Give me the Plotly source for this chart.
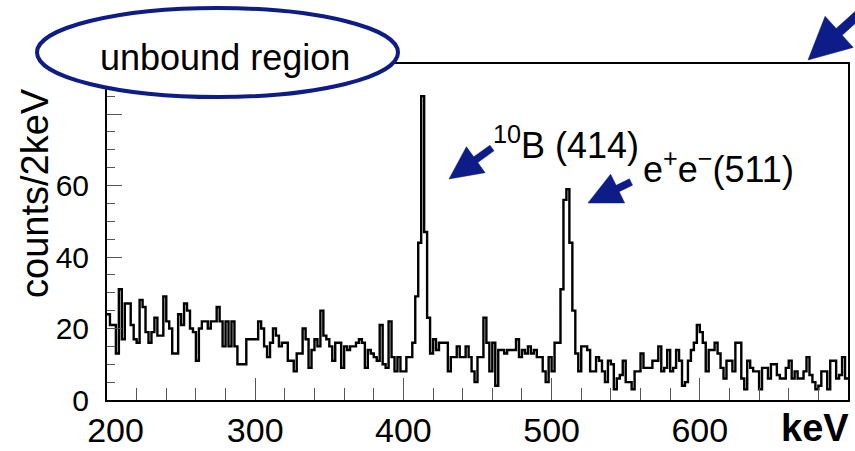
import plotly.graph_objects as go

# ---- spectrum: counts per 2 keV bin, 200-700 keV ----
E_MIN = 200
E_MAX = 700
BIN_WIDTH = 2

counts_200_300 = [24, 21, 21, 13, 31, 17, 27, 27, 21, 17,
                  16, 28, 26, 19, 16, 19, 23, 18, 18, 29,
                  22, 20, 13, 13, 24, 21, 27, 25, 20, 19,
                  11, 20, 22, 22, 20, 22, 22, 26, 22, 15,
                  22, 15, 22, 15, 10, 10, 10, 17, 17, 17]
counts_300_400 = [17, 22, 20, 15, 12, 16, 20, 18, 15, 16,
                  16, 11, 11, 8, 13, 13, 20, 17, 9, 14,
                  17, 15, 25, 18, 17, 15, 11, 16, 16, 9,
                  15, 14, 15, 15, 16, 17, 16, 9, 14, 13,
                  12, 11, 21, 10, 9, 22, 12, 8, 12, 8]
counts_400_500 = [8, 12, 12, 16, 29, 44, 85, 47, 23, 13,
                  17, 14, 16, 16, 16, 8, 12, 12, 15, 12,
                  12, 15, 12, 8, 5, 12, 12, 23, 16, 8,
                  16, 4, 14, 14, 13, 14, 14, 14, 17, 12,
                  14, 13, 15, 13, 14, 12, 12, 8, 5, 12]
counts_500_600 = [8, 16, 16, 31, 56, 59, 44, 25, 13, 8,
                  15, 15, 14, 8, 8, 12, 11, 8, 5, 11,
                  10, 3, 6, 7, 11, 5, 5, 3, 8, 8,
                  13, 9, 9, 9, 11, 11, 15, 8, 9, 14,
                  8, 9, 14, 11, 4, 5, 11, 14, 16, 21]
counts_600_700 = [19, 16, 8, 14, 14, 16, 13, 9, 6, 11,
                  11, 8, 16, 16, 6, 3, 11, 9, 8, 8,
                  3, 9, 9, 6, 10, 10, 7, 6, 6, 9,
                  11, 6, 8, 6, 6, 8, 12, 7, 5, 3,
                  4, 8, 8, 3, 11, 11, 6, 7, 12, 6]

counts = counts_200_300 + counts_300_400 + counts_400_500 + counts_500_600 + counts_600_700

x_tick_vals = [200, 300, 400, 500, 600]
x_tick_text = ["\u2002200", "300", "400", "500", "600"]
y_tick_vals = [0, 20, 40, 60, 80]
y_tick_text = ["0", "20", "40", "60", ""]
Y_MAX = 94

# bin edges and step outline
edges = [E_MIN + BIN_WIDTH * i for i in range(len(counts) + 1)]
step_y = counts + [counts[-1]]

# ---- page geometry ----
W, H = 855, 451
ML, MR, MT, MB = 107, 7, 64, 51
PW, PH = W - ML - MR, H - MT - MB
NAVY = "#0d1c86"
SANS = "Liberation Sans, Arial, sans-serif"


def px(x):
    return (x - ML) / PW


def py(y):
    return (H - MB - y) / PH


def arrow_path(tip, tail, head_len, head_half, shaft_half):
    tx, ty = tip
    ex, ey = tail
    dx, dy = ex - tx, ey - ty
    n = (dx * dx + dy * dy) ** 0.5
    ux, uy = dx / n, dy / n
    nx, ny = -uy, ux
    bx, by = tx + ux * head_len, ty + uy * head_len
    pts = [
        (tx, ty),
        (bx + nx * head_half, by + ny * head_half),
        (bx + nx * shaft_half, by + ny * shaft_half),
        (ex + nx * shaft_half, ey + ny * shaft_half),
        (ex - nx * shaft_half, ey - ny * shaft_half),
        (bx - nx * shaft_half, by - ny * shaft_half),
        (bx - nx * head_half, by - ny * head_half),
    ]
    return "M " + " L ".join(f"{px(x):.5f},{py(y):.5f}" for x, y in pts) + " Z"


fig = go.Figure()
fig.add_trace(go.Scatter(
    x=edges, y=step_y, mode="lines",
    line=dict(color="black", width=2.4, shape="hv"),
    showlegend=False, hoverinfo="skip",
))

shapes = [
    dict(type="circle", xref="paper", yref="paper",
         x0=px(37), x1=px(398), y0=py(97), y1=py(8),
         line=dict(color=NAVY, width=4), fillcolor="white", layer="above"),
]
for tip, tail, hl, hh, sh in [
    ((449, 179), (492, 148), 33, 16, 3.5),
    ((588, 203), (631, 182), 33, 16, 3.5),
    ((808, 60), (880, -5), 42, 21, 4.5),
]:
    shapes.append(dict(type="path", xref="paper", yref="paper",
                       path=arrow_path(tip, tail, hl, hh, sh),
                       fillcolor=NAVY, line=dict(color=NAVY, width=0.5),
                       layer="above"))

text_font = dict(family=SANS, size=36, color="black")
annotations = [
    dict(text="unbound region", xref="paper", yref="paper",
         x=px(225), y=py(57), xanchor="center", yanchor="middle",
         showarrow=False, font=text_font),
    dict(text="<sup>10</sup>B (414)", xref="paper", yref="paper",
         x=px(491), y=py(143), xanchor="left", yanchor="middle",
         showarrow=False, font=text_font),
    dict(text="e<sup>+</sup>e<sup>\u2212</sup>(511)", xref="paper", yref="paper",
         x=px(641), y=py(167), xanchor="left", yanchor="middle",
         showarrow=False, font=text_font),
    dict(text="keV", xref="paper", yref="paper",
         x=px(851), y=py(428), xanchor="right", yanchor="middle",
         showarrow=False,
         font=dict(family=SANS, size=38, color="black", weight="bold")),
    dict(text="counts/2keV", xref="paper", yref="paper",
         x=px(35), y=py(193), xanchor="center", yanchor="middle",
         textangle=-90, showarrow=False,
         font=dict(family=SANS, size=38, color="black")),
]

fig.update_layout(
    width=W, height=H,
    margin=dict(l=ML, r=MR, t=MT, b=MB, pad=0, autoexpand=False),
    paper_bgcolor="white", plot_bgcolor="white",
    shapes=shapes, annotations=annotations,
    xaxis=dict(
        range=[E_MIN, E_MAX], showgrid=False, zeroline=False, automargin=False,
        showline=True, linecolor="black", linewidth=2, mirror=True,
        tickmode="array", tickvals=x_tick_vals, ticktext=x_tick_text,
        ticks="inside", ticklen=22, tickwidth=1, tickcolor="#555555",
        minor=dict(ticks="inside", ticklen=12, tickwidth=1, tickcolor="#555555",
                   tick0=E_MIN, dtick=20),
        tickfont=dict(family=SANS, size=34, color="black"),
        ticklabelstandoff=-1,
    ),
    yaxis=dict(
        range=[0, Y_MAX], showgrid=False, zeroline=False, automargin=False,
        showline=True, linecolor="black", linewidth=2, mirror=True,
        tickmode="array", tickvals=y_tick_vals, ticktext=y_tick_text,
        ticks="inside", ticklen=15, tickwidth=1, tickcolor="#555555",
        minor=dict(ticks="inside", ticklen=8, tickwidth=1, tickcolor="#555555",
                   tick0=0, dtick=5),
        tickfont=dict(family=SANS, size=30, color="black"),
        ticklabelstandoff=10,
    ),
)

fig.write_html("out.html")
